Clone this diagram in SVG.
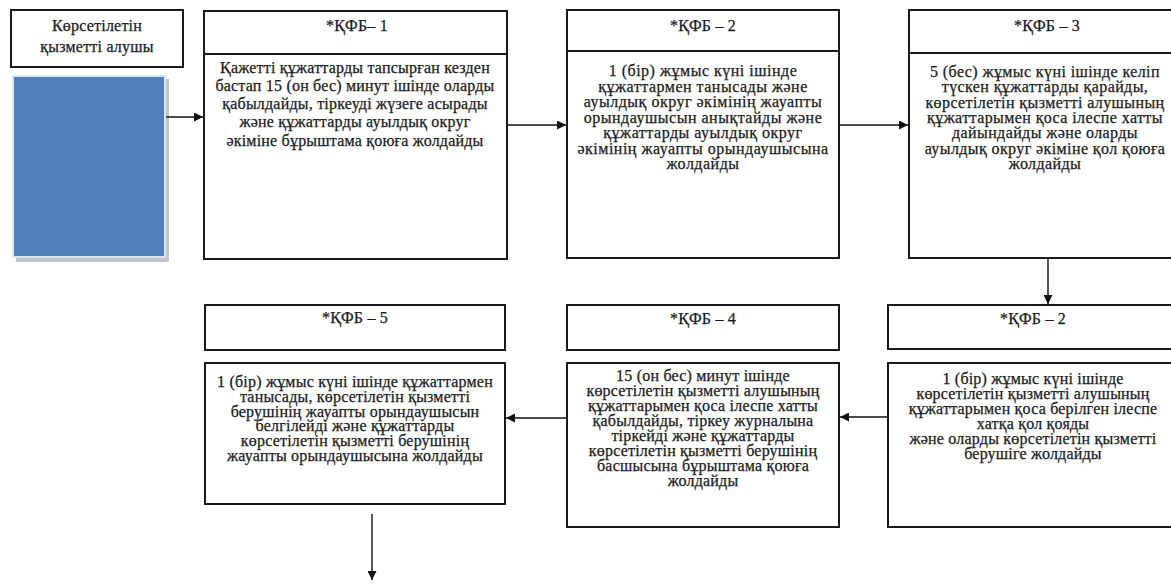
<svg xmlns="http://www.w3.org/2000/svg" width="1171" height="584" viewBox="0 0 1171 584">
  <defs>
    <marker id="arrow" viewBox="0 0 10 10" refX="10" refY="5" markerWidth="9" markerHeight="9" markerUnits="userSpaceOnUse" orient="auto">
      <path d="M0,0 L10,5 L0,10 z" fill="#111"/>
    </marker>
    <style>
      .box { fill: #fff; stroke: #1a1a1a; stroke-width: 2; }
      .div { stroke: #1a1a1a; stroke-width: 2; }
      .t { font-family: "Liberation Serif", "Times New Roman", serif; font-size: 16px; fill: #1a1a1a; stroke: #1a1a1a; stroke-width: 0.25; text-anchor: middle; letter-spacing: 0.2px; }
      .w1 { letter-spacing: 0.5px; }
      .w2 { letter-spacing: 0.4px; }
      .conn { stroke: #111; stroke-width: 1.4; fill: none; marker-end: url(#arrow); }
    </style>
  </defs>
  <rect width="1171" height="584" fill="#fff"/>

  <!-- service recipient -->
  <g id="recipient">
    <rect class="box" x="11" y="10" width="172" height="57"/>
    <text class="t" x="97" y="31">Көрсетілетін</text>
    <text class="t" x="97" y="52">қызметті алушы</text>
    <rect x="16" y="79" width="153" height="183" fill="#c4c4c4"/>
    <rect x="13" y="76" width="152" height="181" fill="#4f81bd" stroke="#dbe5f1" stroke-width="2"/>
  </g>

  <!-- step 1 -->
  <g id="step1">
    <rect class="box" x="204" y="11" width="303" height="248"/>
    <line class="div" x1="204" y1="54" x2="507" y2="54"/>
    <text class="t" x="357" y="31">*ҚФБ– 1</text>
    <text class="t" x="355" y="72.5">Қажетті құжаттарды тапсырған кезден</text>
    <text class="t" x="355" y="90.8">бастап 15 (он бес) минут ішінде оларды</text>
    <text class="t" x="355" y="109">қабылдайды, тіркеуді жүзеге асырады</text>
    <text class="t" x="355" y="127.4">және құжаттарды ауылдық округ</text>
    <text class="t" x="355" y="145.7">әкіміне бұрыштама қоюға жолдайды</text>
  </g>

  <!-- step 2 -->
  <g id="step2">
    <rect class="box" x="567" y="10" width="272" height="248"/>
    <line class="div" x1="567" y1="51" x2="839" y2="51"/>
    <text class="t" x="703" y="31">*ҚФБ – 2</text>
    <text class="t w1" x="703" y="76">1 (бір) жұмыс күні ішінде</text>
    <text class="t w1" x="703" y="91.5">құжаттармен танысады және</text>
    <text class="t w1" x="703" y="107">ауылдық округ әкімінің жауапты</text>
    <text class="t w1" x="703" y="122.5">орындаушысын анықтайды және</text>
    <text class="t w1" x="703" y="138">құжаттарды ауылдық округ</text>
    <text class="t w1" x="703" y="153.5">әкімінің жауапты орындаушысына</text>
    <text class="t w1" x="703" y="169">жолдайды</text>
  </g>

  <!-- step 3 -->
  <g id="step3">
    <rect class="box" x="909" y="10" width="275" height="248"/>
    <line class="div" x1="909" y1="53" x2="1184" y2="53"/>
    <text class="t" x="1047" y="31">*ҚФБ – 3</text>
    <text class="t w2" x="1045" y="77">5 (бес) жұмыс күні ішінде келіп</text>
    <text class="t w2" x="1045" y="92.3">түскен құжаттарды қарайды,</text>
    <text class="t w2" x="1045" y="107.6">көрсетілетін қызметті алушының</text>
    <text class="t w2" x="1045" y="122.9">құжаттарымен қоса ілеспе хатты</text>
    <text class="t w2" x="1045" y="138.2">дайындайды және оларды</text>
    <text class="t w2" x="1045" y="153.5">ауылдық округ әкіміне қол қоюға</text>
    <text class="t w2" x="1045" y="168.8">жолдайды</text>
  </g>

  <!-- step 2, signing -->
  <g id="step2b">
    <rect class="box" x="888" y="305" width="292" height="44"/>
    <text class="t" x="1033" y="324">*ҚФБ – 2</text>
    <rect class="box" x="888" y="363" width="292" height="164"/>
    <text class="t" x="1033" y="383.5">1 (бір) жұмыс күні ішінде</text>
    <text class="t" x="1033" y="398.5">көрсетілетін қызметті алушының</text>
    <text class="t" x="1033" y="413.5">құжаттарымен қоса берілген ілеспе</text>
    <text class="t" x="1033" y="428.5">хатқа қол қояды</text>
    <text class="t" x="1033" y="443.5">және оларды көрсетілетін қызметті</text>
    <text class="t" x="1033" y="458.5">берушіге жолдайды</text>
  </g>

  <!-- step 4 -->
  <g id="step4">
    <rect class="box" x="567" y="305" width="272" height="45"/>
    <text class="t" x="703" y="324">*ҚФБ – 4</text>
    <rect class="box" x="567" y="363" width="272" height="164"/>
    <text class="t" x="703" y="381">15 (он бес) минут ішінде</text>
    <text class="t" x="703" y="396">көрсетілетін қызметті алушының</text>
    <text class="t" x="703" y="411">құжаттарымен қоса ілеспе хатты</text>
    <text class="t" x="703" y="426">қабылдайды, тіркеу журналына</text>
    <text class="t" x="703" y="441">тіркейді және құжаттарды</text>
    <text class="t" x="703" y="456">көрсетілетін қызметті берушінің</text>
    <text class="t" x="703" y="471">басшысына бұрыштама қоюға</text>
    <text class="t" x="703" y="486">жолдайды</text>
  </g>

  <!-- step 5 -->
  <g id="step5">
    <rect class="box" x="205" y="305" width="300" height="45"/>
    <text class="t" x="355" y="323">*ҚФБ – 5</text>
    <rect class="box" x="205" y="363" width="300" height="141"/>
    <text class="t" x="355" y="387">1 (бір) жұмыс күні ішінде құжаттармен</text>
    <text class="t" x="355" y="401.8">танысады, көрсетілетін қызметті</text>
    <text class="t" x="355" y="416.6">берушінің жауапты орындаушысын</text>
    <text class="t" x="355" y="431.4">белгілейді және құжаттарды</text>
    <text class="t" x="355" y="446.2">көрсетілетін қызметті берушінің</text>
    <text class="t" x="355" y="461">жауапты орындаушысына жолдайды</text>
  </g>

  <!-- connectors -->
  <g id="connectors">
    <line class="conn" x1="166" y1="117" x2="203" y2="117"/>
    <line class="conn" x1="508" y1="125" x2="566" y2="125"/>
    <line class="conn" x1="840" y1="125" x2="908" y2="125"/>
    <line class="conn" x1="1048" y1="259" x2="1048" y2="304"/>
    <line class="conn" x1="887" y1="417" x2="840" y2="417"/>
    <line class="conn" x1="566" y1="418" x2="506" y2="418"/>
    <line class="conn" x1="372" y1="514" x2="372" y2="580"/>
  </g>
</svg>
